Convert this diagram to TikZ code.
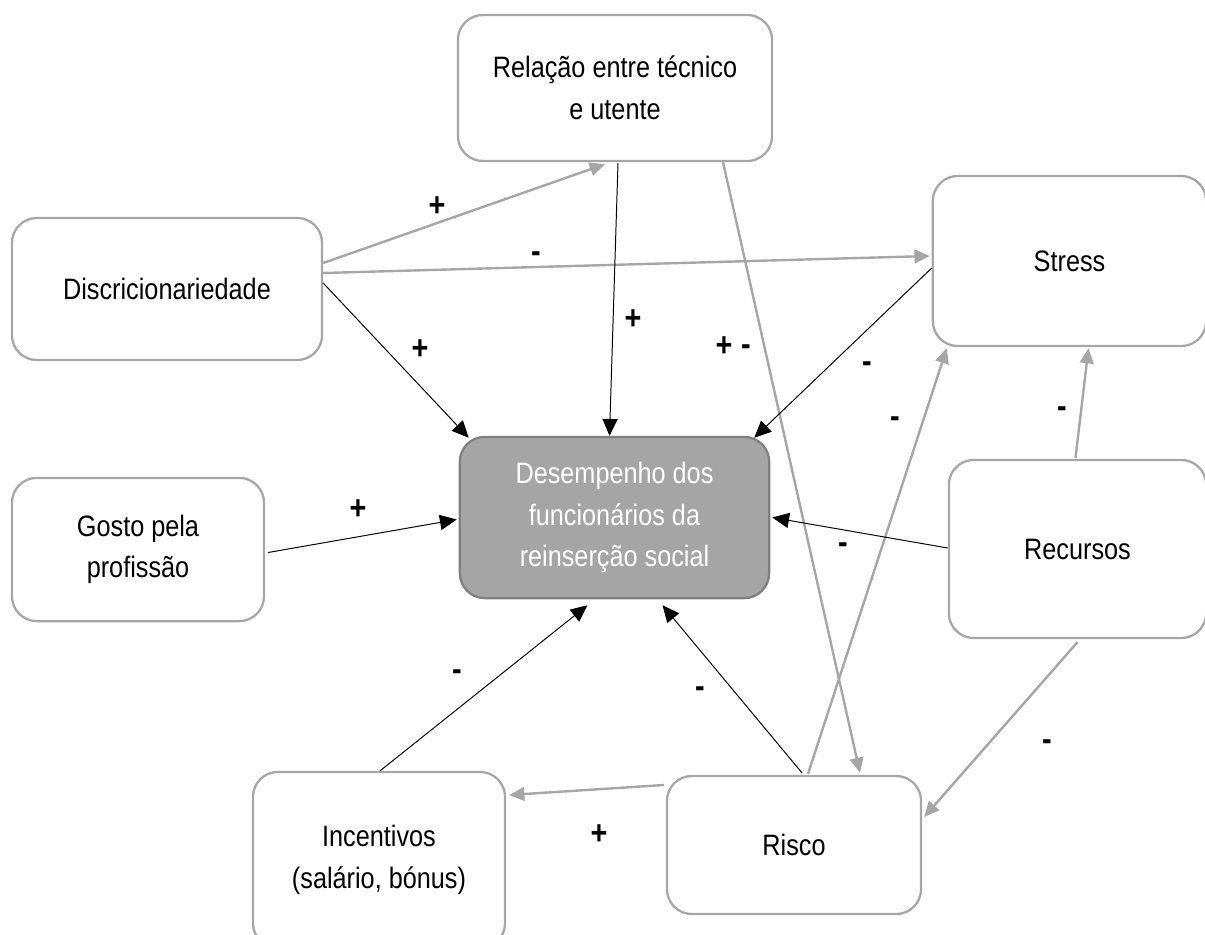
\documentclass[tikz,border=0pt]{standalone}
\usepackage{fontspec}
\setmainfont{Liberation Sans}[FakeStretch=0.855]
\usetikzlibrary{arrows.meta,calc}

\definecolor{boxgrey}{HTML}{A6A6A6}
\definecolor{fillgrey}{HTML}{A5A5A5}
\definecolor{edgegrey}{HTML}{7F7F7F}

\begin{document}
\begin{tikzpicture}[x=0.025cm,y=-0.025cm,
	box/.style={draw=boxgrey, line width=1.6pt, rounded corners=0.62cm, align=center, inner sep=0pt, font=\fontsize{21}{29.5}\selectfont},
	mainbox/.style={box, draw=edgegrey, fill=fillgrey, text=white},
	greylink/.style={draw=boxgrey, line width=1.7pt, -{Triangle[length=0.38cm,width=0.34cm]}},
	blacklink/.style={draw=black, line width=0.7pt, -{Triangle[length=0.42cm,width=0.38cm]}},
	sign/.style={font=\bfseries\fontsize{24}{24}\selectfont, inner sep=0pt}]
	\useasboundingbox (0,0) rectangle (1205,935);
	\clip (0,0) rectangle (1205,935);

	%factors
	\node[box, minimum width=7.85cm, minimum height=3.65cm] (rel) at (615,88) {Relação entre técnico\\e utente};
	\node[box, minimum width=7.75cm, minimum height=3.55cm] (disc) at (167,289) {Discricionariedade};
	\node[box, minimum width=6.83cm, minimum height=4.25cm] (stress) at (1069.5,261) {Stress};
	\node[mainbox, minimum width=7.73cm, minimum height=4.03cm] (des) at (614.5,517.5) {Desempenho dos\\funcionários da\\reinserção social};
	\node[box, minimum width=6.3cm, minimum height=3.58cm] (gosto) at (138,549.5) {Gosto pela\\profissão};
	\node[box, minimum width=6.43cm, minimum height=4.45cm] (rec) at (1077.5,549) {Recursos};
	\node[box, minimum width=6.3cm, minimum height=4.4cm] (inc) at (379,860) {Incentivos\\(salário, bónus)};
	\node[box, minimum width=6.35cm, minimum height=3.45cm] (risco) at (794,845) {Risco};

	%grey links
	\draw[greylink] ($(disc.east)+(0,-26)$) -- ($(rel.south)+(-10,2)$);
	\draw[greylink] ($(disc.east)+(0,-16)$) -- ($(stress.west)+(-2,-5)$);
	\draw[greylink] ($(rel.south)+(108,0)$) -- ($(risco.north)+(66,-2)$);
	\draw[greylink] ($(risco.north)+(14,-1)$) -- ($(stress.south west)+(15,1)$);
	\draw[greylink] ($(rec.north)+(-2,-1)$) -- ($(stress.south)+(19,1)$);
	\draw[greylink] ($(rec.south)+(0,3)$) -- ($(risco.east)+(2,-28)$);
	\draw[greylink] ($(risco.west)+(-2,-60)$) -- ($(inc.east)+(3,-65)$);

	%black links into performance
	\draw[blacklink] ($(disc.east)+(0,-6)$) -- ($(des.north west)+(10,2)$);
	\draw[blacklink] ($(rel.south)+(3,1)$) -- ($(des.north)+(-5,0)$);
	\draw[blacklink] ($(stress.west)+(0,7)$) -- ($(des.north east)+(-16,2)$);
	\draw[blacklink] ($(rec.west)+(0,-1)$) -- ($(des.east)+(2,0)$);
	\draw[blacklink] ($(gosto.east)+(3,3)$) -- ($(des.west)+(-2,2)$);
	\draw[blacklink] ($(inc.north)+(1,0)$) -- ($(des.south)+(-27,6)$);
	\draw[blacklink] ($(risco.north)+(8,-2)$) -- ($(des.south)+(48,6)$);

	%signs
	\node[sign] (s1) at (437,207) {+};
	\node[sign] (s2) at (536,257) {-};
	\node[sign] (s3) at (420,350) {+};
	\node[sign] (s4) at (633,320) {+};
	\node[sign] (s5) at (724,347) {+};
	\node[sign] (s6) at (746,350) {-};
	\node[sign] (s7) at (867,367) {-};
	\node[sign] (s8) at (895,422) {-};
	\node[sign] (s9) at (1062,412) {-};
	\node[sign] (s10) at (843,548) {-};
	\node[sign] (s11) at (358,510) {+};
	\node[sign] (s12) at (457,675) {-};
	\node[sign] (s13) at (700,692) {-};
	\node[sign] (s14) at (1047,745) {-};
	\node[sign] (s15) at (599,835) {+};
\end{tikzpicture}
\end{document}
